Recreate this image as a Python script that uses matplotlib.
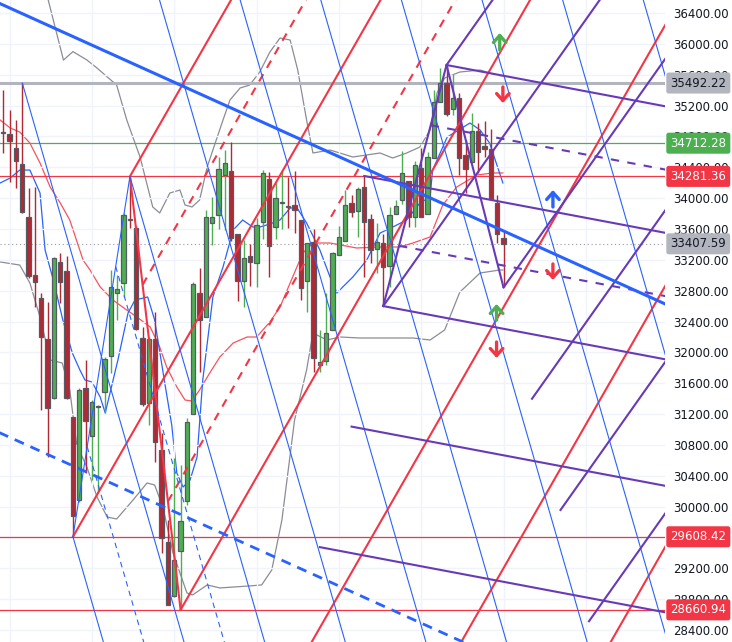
import matplotlib
matplotlib.use('Agg')
import matplotlib.pyplot as plt
import matplotlib.transforms as mtransforms
from matplotlib.patches import Rectangle
import numpy as np

# OHLC, one entry per bar
opens = [34857, 34831, 34650, 34442, 33755, 33003, 32705, 32173, 31408, 33175,
         33055, 31162, 30086, 31542, 30915, 31295, 31486, 31957, 32769, 32899,
         33729, 33612, 32190, 31347, 32173, 30734, 29541, 28841, 29424, 30073,
         31201, 32769, 32462, 33677, 33781, 34300, 34355, 33535, 32929, 33249,
         33162, 33690, 34248, 33625, 33942, 33895, 33907, 33716, 32925, 33431,
         31836, 31885, 32290, 33262, 33440, 33940, 33833, 34140, 33729, 33336,
         33422, 33120, 33794, 33975, 34226, 33759, 34386, 33794, 34516, 35250,
         35490, 35152, 35294, 34559, 34464, 34874, 34680, 34637, 33940, 33478]
highs = [35402, 35142, 35013, 35492, 34131, 34144, 32770, 32653, 33236, 33292,
         33253, 31165, 31538, 31901, 31382, 31317, 31940, 33068, 33003, 33807,
         34281, 33638, 32332, 32199, 32523, 30955, 29826, 30630, 30540, 31149,
         32916, 33094, 33846, 34018, 34537, 34624, 34731, 33535, 33457, 33405,
         33742, 34365, 34342, 34196, 34355, 34278, 34351, 33716, 33418, 33599,
         32290, 32776, 33300, 33642, 34105, 34040, 34144, 34287, 33794, 33681,
         33534, 33888, 33975, 34615, 34226, 34485, 34650, 34598, 35401, 35683,
         35726, 35609, 35359, 34753, 35101, 34978, 35004, 34900, 34040, 33564]
lows = [34585, 34213, 34131, 33807, 32964, 32588, 31253, 30647, 31400, 32644,
        31400, 29608, 30060, 30436, 30345, 30176, 31214, 31732, 32420, 32722,
        33612, 32290, 31304, 31058, 30578, 29398, 28720, 28828, 28661, 30021,
        31201, 31749, 32462, 33392, 33599, 33586, 33444, 32670, 32592, 32864,
        32851, 33470, 32977, 33470, 33603, 33612, 33547, 32679, 32527, 31749,
        31745, 31836, 32290, 33262, 33440, 33759, 33500, 32977, 33158, 33029,
        32600, 32851, 33794, 33924, 33629, 33629, 33759, 33794, 34516, 35250,
        35064, 35077, 34300, 34062, 34464, 34321, 34537, 33988, 33422, 32841]
closes = [34844, 34740, 34481, 33824, 32990, 32912, 32203, 31278, 33227, 32912,
          31408, 29882, 31512, 31110, 31356, 31300, 31914, 32851, 32821, 33781,
          33720, 32303, 31330, 32173, 30838, 29593, 28724, 29308, 29813, 31097,
          32886, 32419, 33759, 33759, 34377, 34455, 33483, 32929, 33224, 33171,
          33651, 34326, 33383, 34001, 33948, 33890, 33846, 32834, 33418, 31927,
          31875, 32251, 33284, 33500, 33907, 33824, 34118, 33686, 33327, 33435,
          33111, 33781, 33898, 34321, 33759, 34429, 33759, 34529, 35250, 35490,
          35087, 35302, 34516, 34373, 34874, 34602, 34641, 33988, 33534, 33407.59]

# Bollinger style indicator lines (bar index, price)
bb_upper_x = [7.0, 9.5, 11.0, 13.2, 14.8, 17.9, 19.5, 21.6, 23.6, 24.7, 26.3, 27.9, 28.7,
              29.8, 31.0, 32.2, 33.1, 34.7, 35.8, 37.4, 38.9, 40.5, 42.1, 43.7, 45.3,
              46.5, 47.9, 48.9, 51.6, 55.2, 59.5, 61.5, 63.7, 65.8, 67.4, 68.5, 69.7,
              72.1, 75.3, 77.9, 78.9]
bb_upper_y = [36600, 35790, 35900, 35791, 35687, 35466, 35013, 34533, 33885, 33807,
              34066, 34105, 33911, 33885, 33975, 34403, 34624, 35013, 35272, 35428,
              35466, 35635, 35894, 36076, 36050, 35661, 35013, 34585, 34624, 34533,
              34585, 34520, 34585, 34663, 34883, 35363, 35557, 35635, 35661, 35596,
              35583]
bb_lower_x = [-0.5, 2.6, 4.2, 5.8, 7.4, 9.3, 10.5, 11.6, 13.2, 14.8, 16.4, 17.9, 20.5,
              22.7, 23.9, 25.2, 26.8, 29.0, 29.9, 32.2, 34.2, 38.9, 40.8, 42.4, 44.0,
              46.0, 47.9, 48.9, 51.1, 53.2, 56.3, 59.5, 64.7, 67.4, 69.7, 72.1, 75.3,
              78.4, 78.9]
bb_lower_y = [33172, 33132, 32899, 32458, 31901, 31862, 31512, 30799, 30514, 30125,
              29865, 29839, 30086, 30306, 30280, 29995, 29398, 28880, 28854, 28984,
              28945, 28971, 28984, 29178, 29826, 31123, 31771, 32251, 32160, 32199,
              32186, 32186, 32186, 32160, 32290, 32782, 33029, 33068, 33068]
bb_mid_x = [-0.5, 1.1, 2.6, 4.2, 5.8, 7.4, 9.0, 10.5, 12.6, 13.7, 15.3, 17.3, 19.5,
            21.1, 23.2, 24.7, 25.8, 27.4, 28.7, 29.8, 31.0, 32.6, 34.2, 36.3, 38.5,
            40.0, 42.1, 43.7, 45.7, 47.3, 48.9, 51.6, 55.8, 59.5, 62.6, 64.7, 67.4,
            69.4, 71.6, 74.8, 77.3, 78.9]
bb_mid_y = [35013, 34909, 34857, 34714, 34455, 34144, 33936, 33716, 33197, 33068,
            32848, 32679, 32549, 32458, 32329, 32069, 31810, 31551, 31382, 31369,
            31512, 31732, 31940, 32121, 32199, 32199, 32393, 32588, 32977, 33288,
            33418, 33418, 33353, 33366, 33366, 33418, 33496, 33910, 34144, 34300,
            34326, 34326]
ma_fast_x = [-0.5, 1.1, 2.6, 4.2, 5.8, 6.6, 7.9, 9.4, 10.9, 12.1, 12.9, 14.0, 15.3,
             16.1, 18.1, 19.7, 20.8, 22.8, 23.9, 25.5, 26.6, 27.4, 28.4, 29.5, 30.6,
             31.5, 33.1, 34.7, 36.3, 37.8, 39.4, 40.5, 42.1, 43.7, 45.3, 46.4, 47.9,
             50.0, 51.6, 52.7, 53.6, 55.2, 57.4, 59.5, 61.5, 63.7, 65.8, 67.4, 67.8,
             70.1, 73.7, 75.3, 76.8, 78.9]
ma_fast_y = [34196, 34261, 34364, 34364, 34066, 33327, 32938, 32420, 31992, 31771,
             31641, 31616, 31421, 31214, 31901, 32510, 32679, 32718, 32420, 31603,
             31058, 30436, 30254, 30345, 30643, 31641, 32718, 33107, 33586, 33716,
             33625, 33625, 33664, 33716, 33872, 33872, 33677, 33327, 32977, 32769,
             32847, 32977, 33197, 33547, 33625, 33716, 33937, 34014, 34364, 34791,
             34974, 34883, 34714, 34196]

# horizontal price levels with their axis tags
level_prices = [35492.22, 34712.28, 34281.36, 29608.42, 28660.94]
level_colors = ['#b2b5be', '#4caf50', '#f23645', '#f23645', '#f23645']
level_widths = [2.2, 0.9, 0.9, 0.9, 0.9]
last_price = 33407.59

# pitchfork anchors (bar index, price)
red_fork = [(11, 29608.42), (20, 34281.36), (28, 28660.94)]
red_levels = [-1, -0.5, 0, 0.5, 1, 2, 3, 4]
blue_fork = [(3, 35492.22), (20, 34281.36), (11, 29608.42)]
blue_levels = [-8, -7, -6, -5, -4, -3, -2, -1, -0.5, 0, 0.5, 1]
purple_fork_a = [(57, 34287), (70, 35726), (60, 32600)]
purple_levels_a = [-1, -0.5, 0, 0.5, 1, 2, 3]
purple_fork_b = [(60, 32600), (70, 35726), (79, 32841)]
purple_levels_b = [-1, 0, 1, 2, 3, 4]

# trend channel (two points on the solid line, one on the dashed one)
trend_pts = [(19.2, 35791), (83.2, 33418)]
trend_dash_pt = (2.64, 30838)

# arrow markers: (bar index, tail price, tip price, colour)
arrows = [(78.4, 35920, 36141, '#4caf50'), (78.9, 35441, 35233, '#f23645'),
          (86.8, 33885, 34105, '#2962ff'), (86.8, 33146, 32938, '#f23645'),
          (77.9, 32419, 32627, '#4caf50'), (77.9, 32134, 31927, '#f23645')]

X_MIN, X_MAX = -0.52, 104.5
Y_MIN, Y_MAX = 28244, 36569

fig = plt.figure(figsize=(7.32, 6.42), dpi=100)
ax = fig.add_axes([0, 0, 665 / 732, 1])
ax.set_xlim(X_MIN, X_MAX)
ax.set_ylim(Y_MIN, Y_MAX)

# grid
ax.set_yticks(np.arange(28400, 36401, 400))
ax.set_xticks(np.arange(1, 105, 13))
ax.grid(color='#f0f3fa', lw=1, zorder=0)
ax.tick_params(axis='x', length=0, labelbottom=False)
ax.yaxis.tick_right()
ax.set_yticklabels(['{:.2f}'.format(v) for v in np.arange(28400, 36401, 400)])
ax.tick_params(axis='y', length=0, pad=5.8, labelsize=8.5, labelcolor='#131722')
for s in ax.spines.values():
    s.set_visible(False)

# indicators
ax.plot(bb_upper_x, bb_upper_y, color='#8a8d96', lw=0.9, zorder=1)
ax.plot(bb_lower_x, bb_lower_y, color='#8a8d96', lw=0.9, zorder=1)
ax.plot(bb_mid_x, bb_mid_y, color='#f7525f', lw=0.9, zorder=1)
ax.plot(ma_fast_x, ma_fast_y, color='#2962ff', lw=0.9, zorder=1)

# horizontal levels
for p, c, w in zip(level_prices, level_colors, level_widths):
    ax.axhline(p, color=c, lw=w, zorder=2)
ax.axhline(last_price, color='#9598a1', lw=0.8, ls=(0, (1, 2.5)), zorder=2)

# candles
for i in range(len(opens)):
    o, h, l, c = opens[i], highs[i], lows[i], closes[i]
    col = '#4caf50' if c >= o else '#b22833'
    ax.vlines(i, l, h, color=col, lw=1, zorder=3)
    ax.add_patch(Rectangle((i - 0.34, min(o, c)), 0.68, max(abs(c - o), 8),
                           facecolor=col, edgecolor='#555a63', lw=0.9, zorder=4))


def draw_pitchfork(pts, levels, color, lw, dash):
    (x1, y1), (x2, y2), (x3, y3) = pts
    mx, my = (x2 + x3) / 2, (y2 + y3) / 2
    dx, dy = mx - x1, my - y1
    hx, hy = x3 - mx, y3 - my
    ax.plot([x2, x3], [y2, y3], color=color, lw=lw, zorder=5, solid_capstyle='butt')
    for lev in levels:
        if lev == 0:
            sx, sy = x1, y1
        else:
            sx, sy = mx + lev * hx, my + lev * hy
        t = (X_MAX + 2 - sx) / dx
        ls = dash if abs(lev) == 0.5 else '-'
        ax.plot([sx, sx + t * dx], [sy, sy + t * dy], color=color, lw=lw, ls=ls, zorder=5)


draw_pitchfork(red_fork, red_levels, '#f23645', 1.5, (0, (4, 3.5)))
draw_pitchfork(blue_fork, blue_levels, '#2962ff', 0.8, (0, (5, 4)))
draw_pitchfork(purple_fork_a, purple_levels_a, '#673ab7', 1.5, (0, (4, 4)))
draw_pitchfork(purple_fork_b, purple_levels_b, '#673ab7', 1.5, (0, (4, 4)))

# trend channel
(tx1, ty1), (tx2, ty2) = trend_pts
slope = (ty2 - ty1) / (tx2 - tx1)
xs = np.array([X_MIN - 1, X_MAX + 1])
ax.plot(xs, ty1 + slope * (xs - tx1), color='#2962ff', lw=2.2, zorder=5)
ax.plot(xs, trend_dash_pt[1] + slope * (xs - trend_dash_pt[0]), color='#2962ff',
        lw=2, ls=(0, (3.6, 2.6)), zorder=5)

# arrows
for x, tail, tip, c in arrows:
    ax.annotate('', xy=(x, tip), xytext=(x, tail),
                arrowprops=dict(arrowstyle='->,head_length=0.5,head_width=0.45',
                                color=c, lw=2.4, shrinkA=0, shrinkB=0), zorder=6)

# price tags on the axis
trans = mtransforms.blended_transform_factory(ax.transAxes, ax.transData)
tags = list(zip(level_prices, level_colors)) + [(last_price, '#b2b5be')]
for p, c in tags:
    tc = '#131722' if c == '#b2b5be' else 'white'
    ax.text(1.008, p, '{:.2f}'.format(p), transform=trans, ha='left', va='center',
            fontsize=8.5, color=tc, zorder=10, clip_on=False,
            bbox=dict(boxstyle='round,pad=0.34,rounding_size=0.2', fc=c, ec='none'))

fig.savefig('out.png', dpi=100)
